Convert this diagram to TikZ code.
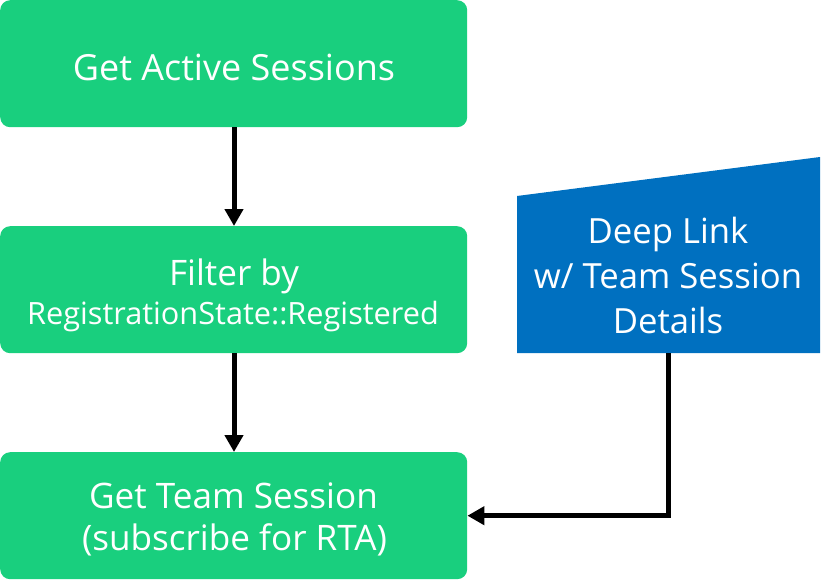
\documentclass[tikz,border=0pt]{standalone}
\usepackage{fontspec}
\setmainfont{Open Sans}
\usetikzlibrary{arrows.meta}
\definecolor{boxgreen}{HTML}{19CF7E}
\definecolor{boxblue}{HTML}{0070C0}
\tikzset{
  greenbox/.style={fill=boxgreen, draw=none, rounded corners=10pt, minimum width=467pt, minimum height=127pt, inner sep=0pt, anchor=north west},
  txt/.style={text=white, inner sep=0pt, anchor=base},
  big/.style={font=\fontsize{36}{40}\selectfont},
  bigb/.style={font=\fontsize{35.1}{40}\selectfont},
  mid/.style={font=\fontsize{30.7}{36}\selectfont},
  bluetxt/.style={font=\fontsize{34.7}{40}\selectfont},
  conn/.style={line width=5pt, draw=black, -{Triangle[width=18pt,length=17pt]}},
}
\begin{document}
\begin{tikzpicture}[x=1pt,y=-1pt]
\useasboundingbox (0,0) rectangle (837,586);
% boxes
\node[greenbox] (b1) at (0,0) {};
\node[greenbox] (b2) at (0,226) {};
\node[greenbox] (b3) at (0,452) {};
% deep link shape
\fill[boxblue] (517,196) -- (820,157) -- (820,353) -- (517,353) -- cycle;
\coordinate (dl) at (668,353);
% texts
\node[txt,big] (t1) at (234,80) {Get Active Sessions};
\node[txt,bigb] (t2a) at (234,285) {Filter by};
\node[txt,mid] (t2b) at (233,324) {RegistrationState::Registered};
\node[txt,bigb] (t3a) at (233.5,508) {Get Team Session};
\node[txt,bigb] (t3b) at (234.5,550) {(subscribe for RTA)};
\node[txt,bluetxt] (t4a) at (668,243) {Deep Link};
\node[txt,bluetxt] (t4b) at (668,288) {w/ Team Session};
\node[txt,bluetxt] (t4c) at (668,333) {Details};
% connectors
\draw[conn] (b1.south -| t1) -- (b2.north -| t1);
\draw[conn] (b2.south -| t1) -- (b3.north -| t1);
\draw[conn] (dl) |- (b3.east);
\end{tikzpicture}
\end{document}
